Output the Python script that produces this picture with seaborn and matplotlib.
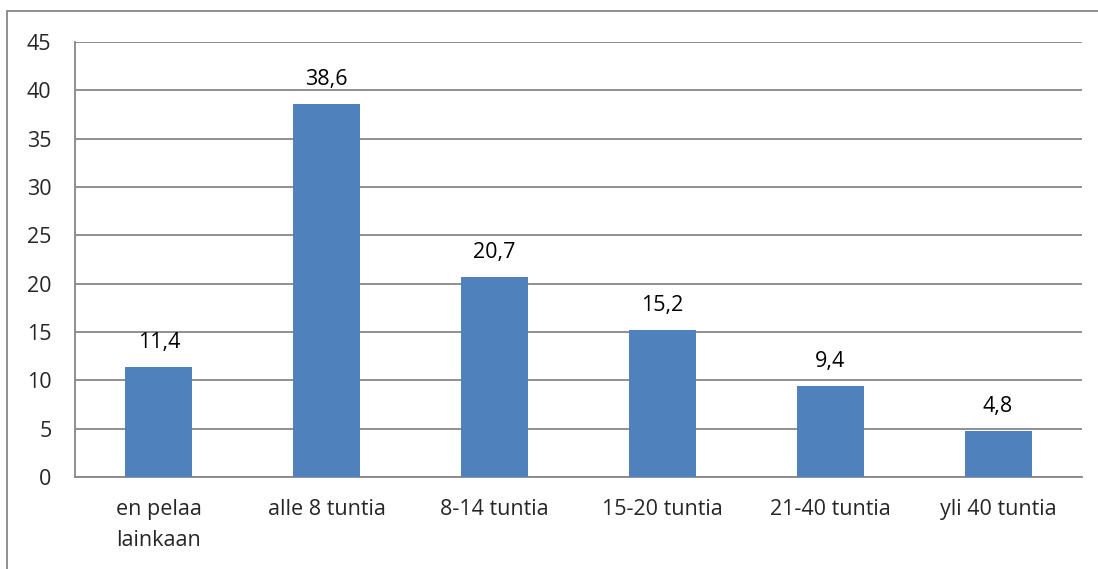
import matplotlib
matplotlib.use("Agg")
import matplotlib.pyplot as plt
import seaborn as sns
import pandas as pd
from matplotlib.patches import Rectangle

categories = ["en pelaa\nlainkaan", "alle 8 tuntia", "8-14 tuntia", "15-20 tuntia", "21-40 tuntia", "yli 40 tuntia"]
values = [11.4, 38.6, 20.7, 15.2, 9.4, 4.8]
y_ticks = [0, 5, 10, 15, 20, 25, 30, 35, 40, 45]

sns.set_theme(style="white")
plt.rcParams["font.family"] = ["Open Sans", "DejaVu Sans"]

df = pd.DataFrame({"cat": categories, "val": values})

fig = plt.figure(figsize=(10.98, 5.69), dpi=100)
ax = fig.add_axes([75 / 1098, 1 - 477 / 569, 1007 / 1098, 435 / 569])

sns.barplot(data=df, x="cat", y="val", color="#4F81BD", saturation=1, width=0.4,
            linewidth=0, ax=ax, zorder=3)

fs = 15.5
grid_c = "#878787"
ax.set_ylim(0, 45)
ax.set_yticks(y_ticks)
ax.set_yticklabels([str(t) for t in y_ticks], fontsize=fs)
ax.yaxis.grid(True, color=grid_c, linewidth=1.3, zorder=0)
ax.set_axisbelow(True)
ax.tick_params(axis="y", length=0, pad=17)
ax.tick_params(axis="x", length=0, pad=16, labelsize=fs)
for lbl in ax.get_xticklabels():
    lbl.set_linespacing(1.6)
    lbl.set_verticalalignment("top")
ax.set_xlabel("")
ax.set_ylabel("")
for side in ["top", "right"]:
    ax.spines[side].set_visible(False)
for side in ["left", "bottom"]:
    ax.spines[side].set_color(grid_c)
    ax.spines[side].set_linewidth(1.3)

for i, v in enumerate(values):
    ax.annotate(f"{v:.1f}".replace(".", ","), xy=(i, v), xytext=(0, 13.5),
                textcoords="offset points", ha="center", va="baseline",
                fontsize=fs, color="black")

fig.patches.append(Rectangle((7 / 1098, -0.1), 1.2, 1 - 11 / 569 + 0.1, transform=fig.transFigure,
                             fill=False, edgecolor="#868686", linewidth=1.3))

fig.savefig("out.png", dpi=100)
